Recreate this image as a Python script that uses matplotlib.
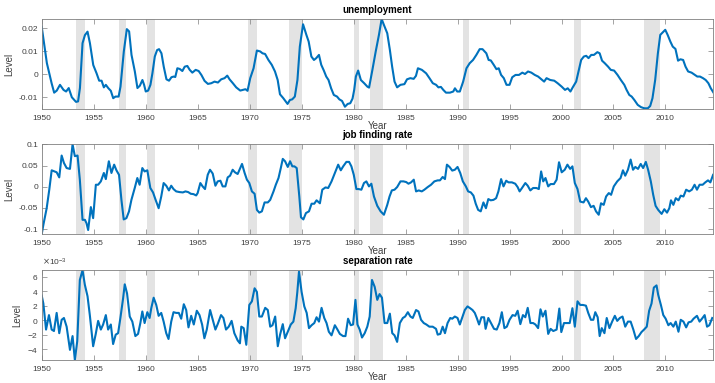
import matplotlib
matplotlib.use("Agg")
import matplotlib.pyplot as plt
from matplotlib.ticker import FuncFormatter, ScalarFormatter

plt.rcParams['font.family'] = ['Liberation Sans', 'DejaVu Sans']
plt.rcParams['axes.unicode_minus'] = False

# NBER recessions (start, end)
recessions = [(1953.33, 1954.13), (1957.42, 1958.08), (1960.1, 1960.93),
              (1969.84, 1970.74), (1973.82, 1975.07), (1980.03, 1980.48),
              (1981.54, 1982.86), (1990.55, 1991.15), (2001.2, 2001.85),
              (2007.95, 2009.45)]

unemp_year = [1950.0, 1950.5, 1950.7, 1950.96, 1951.2, 1951.45, 1951.76, 1952.1, 1952.35, 1952.6,
              1952.9, 1953.1, 1953.3, 1953.5, 1953.68, 1953.93, 1954.16, 1954.41, 1954.64, 1954.96,
              1955.28, 1955.53, 1955.76, 1955.98, 1956.17, 1956.4, 1956.65, 1956.88, 1957.1, 1957.4,
              1957.58, 1957.9, 1958.19, 1958.41, 1958.64, 1958.96, 1959.21, 1959.44, 1959.69, 1959.85,
              1960.01, 1960.24, 1960.46, 1960.65, 1960.88, 1961.1, 1961.29, 1961.52, 1961.74, 1962.0,
              1962.25, 1962.48, 1962.7, 1962.85, 1963.05, 1963.28, 1963.53, 1963.76, 1964.01, 1964.24,
              1964.49, 1964.81, 1965.1, 1965.36, 1965.67, 1965.99, 1966.31, 1966.63, 1966.95, 1967.27,
              1967.59, 1967.85, 1968.07, 1968.39, 1968.71, 1969.1, 1969.35, 1969.6, 1969.8,
              1970.06, 1970.38, 1970.7, 1971.02, 1971.24, 1971.49, 1971.81, 1972.13, 1972.44, 1972.7,
              1972.92, 1973.24, 1973.65, 1973.87, 1974.1, 1974.35, 1974.6, 1974.83, 1975.14, 1975.46,
              1975.68, 1975.94, 1976.19, 1976.41, 1976.67, 1976.89, 1977.14, 1977.37, 1977.59, 1977.84,
              1978.1, 1978.41, 1978.63, 1978.89, 1979.17, 1979.43, 1979.68, 1979.9, 1980.06, 1980.22,
              1980.44, 1980.7, 1981.02, 1981.33, 1981.49, 1981.81, 1982.13, 1982.44, 1982.7, 1982.92,
              1983.24, 1983.49, 1983.71, 1983.94, 1984.19, 1984.51, 1984.89, 1985.14, 1985.46, 1985.78,
              1986.0, 1986.19, 1986.57, 1986.98, 1987.3, 1987.62, 1987.94, 1988.16, 1988.4, 1988.63,
              1988.89, 1989.27, 1989.59, 1989.75, 1989.97, 1990.22, 1990.54, 1990.86, 1991.17, 1991.49,
              1991.81, 1992.13, 1992.4,
              1992.77, 1992.99, 1993.2, 1993.48, 1993.74, 1993.96, 1994.19, 1994.45, 1994.71, 1995.0,
              1995.26, 1995.58, 1995.91, 1996.23, 1996.49, 1996.78, 1997.1, 1997.43, 1997.75, 1998.07,
              1998.33, 1998.56, 1998.92, 1999.3, 1999.63, 2000.02, 2000.34, 2000.6, 2000.86, 2001.08,
              2001.41, 2001.63, 2001.89, 2002.15, 2002.38, 2002.6, 2002.86, 2003.12, 2003.45, 2003.67,
              2003.9, 2004.16, 2004.48, 2004.74, 2005.06, 2005.39, 2005.71, 2006.04, 2006.26, 2006.52,
              2006.75, 2007.01, 2007.33, 2007.65, 2007.98, 2008.3, 2008.53, 2008.75, 2009.01, 2009.27,
              2009.5, 2009.76, 2009.98, 2010.21, 2010.47, 2010.7, 2010.96, 2011.21, 2011.44, 2011.7,
              2011.93, 2012.18, 2012.51, 2012.83, 2013.06, 2013.32, 2013.61, 2013.87, 2014.13, 2014.36,
              2014.62]
unemp = [0.0207, 0.0048, 0.001, -0.004, -0.008, -0.0071, -0.0046, -0.0068, -0.0075, -0.006,
         -0.010, -0.011, -0.012, -0.0118, -0.006, 0.0135, 0.017, 0.0185, 0.0135, 0.004,
         0.0004, -0.0028, -0.0028, -0.0057, -0.0046, -0.006, -0.0072, -0.0104, -0.0097, -0.0097,
         -0.0054, 0.0099, 0.0196, 0.0186, 0.0084, 0.0012, -0.006, -0.005, -0.0025, -0.0046,
         -0.0075, -0.0071, -0.0046, 0.0004, 0.0077, 0.0105, 0.0109, 0.0091, 0.0033, -0.0022,
         -0.0028, -0.0013, -0.001, -0.0012, 0.0026, 0.0023, 0.0014, 0.0033, 0.0036, 0.0019,
         0.0007, 0.0019, 0.0014, -0.0003, -0.0029, -0.0042, -0.0039, -0.0032, -0.0036, -0.0022,
         -0.0017, -0.0006, -0.0022, -0.0039, -0.0057, -0.0071, -0.0068, -0.0065, -0.0072,
         -0.0017, 0.0026, 0.0103, 0.0099, 0.0091, 0.0088, 0.0062, 0.0041, 0.0012, -0.0025,
         -0.0087, -0.0104, -0.0129, -0.0112, -0.0109, -0.0097, -0.0025, 0.012, 0.0217, 0.0171,
         0.0142, 0.0077, 0.0062, 0.007, 0.0084, 0.0041, 0.0016, -0.001, -0.0025, -0.0061,
         -0.009, -0.0097, -0.0109, -0.0116, -0.0141, -0.0129, -0.0126, -0.0106, -0.0068, -0.001,
         0.0016, -0.0025, -0.0039, -0.0054, -0.0058, 0.0019, 0.0099, 0.0171, 0.024, 0.0214,
         0.0178, 0.0106, 0.0033, -0.0032, -0.0057, -0.0046, -0.0043, -0.0022, -0.0017, -0.002,
         -0.0007, 0.0026, 0.0019, 0.0004, -0.0017, -0.0039, -0.0046, -0.0057, -0.0055, -0.0068,
         -0.008, -0.008, -0.0075, -0.0061, -0.0075, -0.0075, -0.0032, 0.0026, 0.0048, 0.0062,
         0.0084, 0.0109, 0.0109,
         0.0091, 0.0062, 0.006, 0.0041, 0.0022, 0.0026, -0.0003, -0.0017, -0.0046, -0.0046,
         -0.0013, -0.0003, -0.0003, 0.0007, 0.0001, 0.0012, 0.0007, -0.0003, -0.001, -0.0022,
         -0.0032, -0.0017, -0.0025, -0.0028, -0.0039, -0.0054, -0.0068, -0.0061, -0.0075, -0.0057,
         -0.0032, 0.0012, 0.0062, 0.0077, 0.008, 0.007, 0.0084, 0.0084, 0.0096, 0.0091,
         0.0059, 0.0048, 0.0033, 0.0019, 0.0016, -0.0003, -0.0025, -0.0046, -0.0068, -0.009,
         -0.0097, -0.0112, -0.0133, -0.0143, -0.0148, -0.0148, -0.0138, -0.0104, -0.0025, 0.0091,
         0.0171, 0.0183, 0.0193, 0.0171, 0.0142, 0.012, 0.011, 0.0059, 0.0065, 0.0062,
         0.0033, 0.0012, 0.0007, -0.0003, -0.001, -0.001, -0.0017, -0.0025, -0.0039, -0.0061,
         -0.008]

jfr_year = [1950.0, 1950.16, 1950.48, 1950.73, 1950.96, 1951.2, 1951.44, 1951.69, 1951.92, 1952.14,
            1952.4, 1952.72, 1952.97, 1953.19, 1953.45, 1953.67, 1953.93, 1954.16, 1954.31, 1954.47,
            1954.73, 1954.95, 1955.21, 1955.43, 1955.69, 1955.98, 1956.17, 1956.46, 1956.71, 1956.97,
            1957.19, 1957.44, 1957.67, 1957.89, 1958.15, 1958.4, 1958.63, 1958.95, 1959.2, 1959.42,
            1959.68, 1959.9, 1960.16, 1960.45, 1960.71, 1960.96, 1961.25, 1961.5, 1961.73, 1961.98,
            1962.24, 1962.46, 1962.68, 1962.94, 1963.26, 1963.58, 1963.83, 1964.09, 1964.34, 1964.6,
            1964.86, 1965.0, 1965.26, 1965.48, 1965.71, 1965.97, 1966.19, 1966.45, 1966.71, 1966.93,
            1967.19, 1967.41, 1967.67, 1967.89, 1968.12, 1968.37, 1968.59, 1968.85,
            1969.27, 1969.52, 1969.74, 1969.97, 1970.22, 1970.48, 1970.7, 1970.93, 1971.18, 1971.44,
            1971.75, 1971.98, 1972.3, 1972.52, 1972.78, 1973.0, 1973.19, 1973.41, 1973.67, 1973.89,
            1974.11, 1974.31, 1974.53, 1974.78, 1974.94, 1975.17, 1975.42, 1975.71, 1975.96, 1976.22,
            1976.44, 1976.76, 1976.99, 1977.3, 1977.56, 1977.88, 1978.2, 1978.52, 1978.77, 1979.0,
            1979.31, 1979.57, 1979.79, 1980.02, 1980.27, 1980.49, 1980.75, 1981.0, 1981.23, 1981.48,
            1981.71, 1981.96, 1982.28, 1982.6, 1982.92, 1983.24, 1983.46, 1983.68, 1983.94, 1984.19,
            1984.51, 1984.8, 1985.06, 1985.28, 1985.53, 1985.79, 1986.01, 1986.27, 1986.56, 1986.81,
            1987.13, 1987.45, 1987.77, 1988.09, 1988.31, 1988.57, 1988.79, 1988.98, 1989.23, 1989.49,
            1989.74, 1990.0, 1990.26, 1990.51, 1990.8, 1991.02, 1991.28, 1991.53, 1991.75, 1991.98,
            1992.23, 1992.49,
            1992.73, 1992.96, 1993.19, 1993.45, 1993.71, 1993.93, 1994.19, 1994.42, 1994.68, 1994.9,
            1995.23, 1995.55, 1995.78, 1995.97, 1996.2, 1996.52, 1996.75, 1997.0, 1997.27, 1997.59,
            1997.82, 1998.04, 1998.24, 1998.46, 1998.72, 1998.95, 1999.27, 1999.53, 1999.76, 2000.02,
            2000.31, 2000.57, 2000.83, 2001.05, 2001.28, 2001.54, 2001.8, 2002.12, 2002.35, 2002.57,
            2002.83, 2003.09, 2003.32, 2003.58, 2003.8, 2004.06, 2004.29, 2004.55, 2004.77, 2005.03,
            2005.36, 2005.68, 2005.91, 2006.13, 2006.39, 2006.65, 2006.88, 2007.1, 2007.36, 2007.62,
            2007.85, 2008.11, 2008.33, 2008.59, 2008.82, 2009.05, 2009.3, 2009.63, 2009.89, 2010.15,
            2010.37, 2010.53, 2010.76, 2010.99, 2011.25, 2011.47, 2011.73, 2011.99, 2012.28, 2012.54,
            2012.8, 2013.03, 2013.28, 2013.58, 2013.83, 2014.09, 2014.32, 2014.58]
jfr = [-0.112, -0.09, -0.0506, -0.007, 0.0387, 0.0363, 0.034, 0.022, 0.0735, 0.056,
       0.044, 0.042, 0.1, 0.072, 0.0735, 0.0166, -0.078, -0.078, -0.086, -0.102,
       -0.048, -0.074, 0.0047, 0.0047, 0.0126, 0.0324, 0.018, 0.06, 0.0324, 0.052,
       0.0387, 0.028, -0.031, -0.077, -0.074, -0.058, -0.031, -0.003, 0.0205, 0.0047,
       0.044, 0.036, 0.0387, -0.003, -0.0134, -0.031, -0.0506, -0.023, 0.0087, 0.0024,
       -0.0087, 0.0024, -0.0055, -0.011, -0.0126, -0.0134, -0.011, -0.0126, -0.0166, -0.0174,
       -0.0205, -0.015, 0.0087, 0.0008, -0.0055, 0.028, 0.04, 0.031, 0.0024, 0.0126,
       0.0142, 0.0008, 0.0008, 0.022, 0.026, 0.04, 0.034, 0.03,
       0.0537, 0.0324, 0.0166, 0.0087, -0.011, -0.0166, -0.0545, -0.061, -0.058, -0.037,
       -0.037, -0.031, -0.011, 0.0047, 0.0205, 0.044, 0.0656, 0.06, 0.0466, 0.06,
       0.048, 0.048, 0.044, -0.023, -0.072, -0.077, -0.062, -0.058, -0.04, -0.04,
       -0.032, -0.039, -0.007, -0.0016, -0.003, 0.0126, 0.0324, 0.052, 0.0387, 0.048,
       0.0585, 0.0585, 0.048, 0.028, -0.0055, -0.0055, -0.007, 0.0087, 0.0126, 0.0008,
       0.0071, -0.023, -0.045, -0.058, -0.066, -0.0427, -0.023, -0.0087, -0.007, -0.0008,
       0.0126, 0.0126, 0.011, 0.0071, 0.0103, 0.0166, -0.011, -0.0087, -0.011, -0.007,
       -0.0008, 0.0047, 0.0126, 0.015, 0.015, 0.023, 0.018, 0.052, 0.0466, 0.038,
       0.04, 0.0466, 0.0324, 0.0126, 0.0008, -0.011, -0.0134, -0.021, -0.04, -0.0545,
       -0.058, -0.037,
       -0.0506, -0.029, -0.032, -0.031, -0.027, -0.011, 0.018, 0.0008, 0.0142, 0.0103,
       0.0103, 0.0071, -0.0008, -0.011, -0.003, 0.0087, 0.0024, -0.0087, -0.003, -0.003,
       -0.0055, 0.036, 0.0126, 0.0205, 0.0008, 0.0063, 0.0063, 0.0166, 0.0577, 0.034,
       0.04, 0.052, 0.042, 0.048, 0.0087, -0.0055, -0.035, -0.037, -0.027, -0.035,
       -0.048, -0.045, -0.058, -0.066, -0.039, -0.0427, -0.023, -0.015, -0.019, 0.0008,
       0.0126, 0.0205, 0.0387, 0.026, 0.04, 0.064, 0.04, 0.0466, 0.042, 0.0537,
       0.044, 0.0585, 0.04, 0.0126, -0.019, -0.045, -0.0545, -0.064, -0.053, -0.061,
       -0.0506, -0.032, -0.0427, -0.027, -0.032, -0.021, -0.023, -0.007, -0.011, -0.007,
       0.0047, -0.007, 0.0047, 0.0047, 0.0103, 0.015, 0.0103, 0.028]

# separation rate, in units of 1e-3
sep_year = [1950.0, 1950.16, 1950.42, 1950.7, 1950.96, 1951.18, 1951.44, 1951.69, 1951.92, 1952.14,
            1952.4, 1952.72, 1952.97, 1953.19, 1953.42, 1953.67, 1953.93, 1954.15, 1954.41, 1954.63,
            1954.95, 1955.2, 1955.43, 1955.69, 1955.91, 1956.17, 1956.39, 1956.65, 1956.87, 1957.12,
            1957.35, 1957.57, 1957.83, 1957.99, 1958.21, 1958.47, 1958.72, 1959.01, 1959.27, 1959.49,
            1959.68, 1959.9, 1960.16, 1960.38, 1960.54, 1960.77, 1961.02, 1961.25, 1961.5, 1961.73,
            1961.98, 1962.2, 1962.46, 1962.68, 1962.94, 1963.19, 1963.42, 1963.67, 1963.9, 1964.12,
            1964.38, 1964.63, 1964.92, 1965.18, 1965.43, 1965.65, 1965.88, 1966.2, 1966.45, 1966.71,
            1966.93, 1967.25, 1967.48, 1967.73, 1967.99, 1968.27, 1968.53, 1968.85, 1969.07,
            1969.2, 1969.43, 1969.68, 1969.97, 1970.22, 1970.48, 1970.7, 1970.93, 1971.18, 1971.5,
            1971.75, 1971.98, 1972.2, 1972.46, 1972.71, 1972.93, 1973.19, 1973.41, 1973.67, 1973.96,
            1974.21, 1974.43, 1974.59, 1974.75, 1975.0, 1975.26, 1975.49, 1975.71, 1975.96, 1976.22,
            1976.44, 1976.67, 1976.92, 1977.18, 1977.4, 1977.62, 1977.88, 1978.2, 1978.45, 1978.68,
            1978.99, 1979.22, 1979.47, 1979.73, 1979.95, 1980.18, 1980.37, 1980.59, 1980.81, 1981.07,
            1981.32, 1981.55, 1981.77, 1982.03, 1982.28, 1982.5, 1982.73, 1982.98, 1983.24, 1983.49,
            1983.72, 1983.94, 1984.19, 1984.45, 1984.74, 1984.96, 1985.22, 1985.47, 1985.69, 1986.01,
            1986.24, 1986.49, 1986.75, 1987.0, 1987.29, 1987.61, 1987.93, 1988.09, 1988.34, 1988.57,
            1988.79, 1989.04, 1989.3, 1989.49, 1989.74, 1990.0, 1990.22, 1990.48, 1990.7, 1990.96,
            1991.21, 1991.44, 1991.66, 1991.85, 1992.07, 1992.3, 1992.55,
            1992.7, 1992.96, 1993.22, 1993.51, 1993.77, 1994.03, 1994.26, 1994.51, 1994.74, 1995.0,
            1995.29, 1995.55, 1995.78, 1996.04, 1996.29, 1996.52, 1996.75, 1997.01, 1997.27, 1997.49,
            1997.75, 1997.98, 1998.2, 1998.46, 1998.72, 1998.95, 1999.21, 1999.53, 1999.79, 1999.98,
            2000.24, 2000.5, 2000.79, 2001.05, 2001.28, 2001.54, 2001.8, 2002.06, 2002.35, 2002.57,
            2002.83, 2003.06, 2003.25, 2003.48, 2003.67, 2003.87, 2004.13, 2004.35, 2004.61, 2004.87,
            2005.13, 2005.36, 2005.61, 2005.87, 2006.13, 2006.39, 2006.65, 2006.91, 2007.17, 2007.43,
            2007.69, 2007.94, 2008.2, 2008.43, 2008.66, 2008.88, 2009.14, 2009.3, 2009.56, 2009.79,
            2010.02, 2010.28, 2010.5, 2010.76, 2010.99, 2011.25, 2011.47, 2011.73, 2011.99, 2012.22,
            2012.48, 2012.7, 2013.03, 2013.28, 2013.51, 2013.77, 2014.0, 2014.22, 2014.5]
sep = [3.4, 2.3, -1.3, 0.7, -1.3, -1.5, 1.0, -1.8, 0.05, 0.3,
       -0.9, -4.1, -2.2, -5.5, -2.9, 5.55, 6.9, 4.9, 3.3, 0.7,
       -3.6, -1.9, -0.1, -1.3, -0.6, 0.7, -1.3, -0.6, -3.3, -2.0,
       -1.8, 0.3, 3.0, 4.95, 3.7, 0.5, -0.2, -2.2, -1.9, -0.4,
       1.2, -0.4, 1.1, 0.3, 1.65, 3.1, 2.1, 0.6, 1.0, -0.2,
       -1.8, -2.6, -0.2, 1.1, 1.0, 1.0, 0.2, 2.2, 1.4, -1.0,
       0.6, -0.6, 1.3, 0.7, -0.6, -2.5, -1.3, 1.4, 0.05, -1.3,
       -0.55, 0.7, 0.3, -1.3, -0.9, -0.1, -1.8, -2.8, -3.2,
       -0.9, -1.1, -3.4, 2.1, 2.6, 4.4, 3.9, 0.5, 0.5, 1.7,
       1.4, -0.9, -0.7, 0.5, -3.6, -2.0, -0.55, -2.5, -1.6, -0.6,
       -0.2, 1.65, 3.9, 6.7, 3.9, 1.9, 1.0, -1.1, -0.7, -0.4,
       0.4, -0.2, 1.7, 0.3, -0.4, -1.6, -2.1, -0.7, -1.3, -1.9,
       -2.2, -2.2, 0.2, -0.7, -0.6, 2.8, -0.6, -1.3, -2.4, -1.8,
       -0.9, 0.5, 5.55, 4.6, 2.8, 3.6, 3.1, -0.4, -0.4, 0.9,
       -1.8, -2.1, -3.0, -0.4, 0.3, 0.5, 1.1, 0.5, 0.3, 1.4,
       1.2, 0.05, -0.4, -0.6, -0.9, -0.9, -1.2, -2.0, -1.9, -0.9,
       -1.8, -0.4, 0.3, 0.2, 0.5, 0.3, -0.6, 0.5, 1.4, 1.9,
       1.65, 1.4, 1.0, 0.3, -0.6, 0.4, 0.4,
       -1.2, 0.3, -0.4, -1.2, -1.3, -0.4, 1.1, -1.1, -0.9, 0.05,
       0.7, 0.6, 1.3, -0.55, 0.7, 0.4, 1.7, -0.4, -0.4, -0.6,
       -1.1, 1.5, 0.5, 1.3, -1.9, -1.2, -1.5, -1.3, 1.6, -1.65,
       -0.4, -0.4, -0.4, 1.65, -0.9, 2.6, 2.1, 2.1, 2.0, 1.0,
       0.05, 0.05, 1.1, 0.4, -2.2, -1.1, -1.8, 0.3, -1.1, -0.2,
       0.6, -0.1, 0.3, 0.5, -0.9, -0.2, -0.2, -1.3, -2.6, -2.2,
       -1.65, -1.3, -0.9, 1.3, 2.3, 4.5, 4.8, 3.5, 2.1, 0.7,
       0.2, -0.7, -0.4, -0.9, -0.2, -1.6, 0.05, -0.2, -1.0, -0.3,
       -0.2, 0.2, 0.6, -0.2, 0.2, 0.7, -0.9, -0.7, 0.3]

panels = [
    ("unemployment", unemp_year, unemp, [-0.01, 0, 0.01, 0.02], (-0.0151, 0.024)),
    ("job finding rate", jfr_year, jfr, [-0.1, -0.05, 0, 0.05, 0.1], (-0.112, 0.1)),
    ("separation rate", sep_year, [v * 1e-3 for v in sep],
     [-4e-3, -2e-3, 0, 2e-3, 4e-3, 6e-3], (-5.5e-3, 6.93e-3)),
]
xticks = list(range(1950, 2011, 5))

line_col = '#0072BD'
shade_col = '#e3e3e3'
axis_col = '#808080'
text_col = '#404040'

fig = plt.figure(figsize=(7.15, 3.83), dpi=100)
bottoms = [0.7154, 0.3883, 0.0601]

for i, (title, xs, ys, yt, yl) in enumerate(panels):
    ax = fig.add_axes([0.0583, bottoms[i], 0.9396, 0.235])
    for a, b in recessions:
        ax.axvspan(a, b, color=shade_col, lw=0, zorder=0)
    ax.plot(xs, ys, color=line_col, lw=1.5, zorder=2)
    ax.set_xlim(1950, 2014.62)
    ax.set_ylim(*yl)
    ax.set_xticks(xticks)
    ax.set_yticks(yt)
    if i < 2:
        ax.yaxis.set_major_formatter(FuncFormatter(lambda v, p: f"{v:g}"))
    else:
        fmt = ScalarFormatter(useMathText=True)
        fmt.set_powerlimits((-2, 2))
        ax.yaxis.set_major_formatter(fmt)
        ax.yaxis.get_offset_text().set_fontsize(6)
        ax.yaxis.get_offset_text().set_color(text_col)
    ax.tick_params(direction='in', length=3.5, width=0.5, top=True, right=True,
                   labelsize=6, colors=axis_col, labelcolor=text_col)
    ax.tick_params(axis='x', pad=4)
    ax.tick_params(axis='y', pad=2.5)
    for s in ax.spines.values():
        s.set_color(axis_col)
        s.set_linewidth(0.6)
    ax.set_title(title, fontsize=7, fontweight='bold', color='black', pad=4.5)
    ax.set_xlabel("Year", fontsize=7, color=text_col, labelpad=-0.5)
    ax.set_ylabel("Level", fontsize=7, color=text_col, labelpad=3)

fig.savefig("out.png", dpi=100)
